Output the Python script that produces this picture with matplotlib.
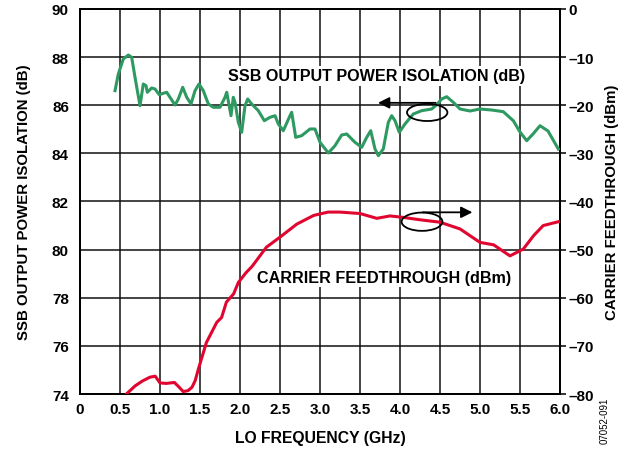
import matplotlib
matplotlib.use("Agg")
import matplotlib.pyplot as plt
from matplotlib.patches import Ellipse

plt.rcParams['font.family'] = ['Liberation Sans', 'DejaVu Sans']
plt.rcParams['font.weight'] = 'bold'

# SSB output power isolation (dB), left axis
iso_freq = [0.4375, 0.479, 0.541, 0.604, 0.646, 0.6875, 0.75, 0.791, 0.825, 0.841, 0.896, 0.9375, 0.991,
            1.041, 1.084, 1.125, 1.1875, 1.229, 1.284, 1.334, 1.3875, 1.4375, 1.4875, 1.541, 1.604, 1.666,
            1.75, 1.8125, 1.834, 1.8875, 1.916, 1.9375, 1.979, 2.021, 2.0625, 2.096, 2.146, 2.229, 2.304,
            2.375, 2.4375, 2.479, 2.541, 2.625, 2.646, 2.696, 2.771, 2.875, 2.9375, 3.0, 3.104, 3.1875,
            3.271, 3.334, 3.4375, 3.521, 3.584, 3.634, 3.6875, 3.729, 3.791, 3.854, 3.896, 3.9375, 3.991,
            4.0625, 4.166, 4.271, 4.396, 4.459, 4.521, 4.584, 4.666, 4.75, 4.875, 5.0, 5.15, 5.291, 5.416,
            5.5, 5.584, 5.6625, 5.75, 5.85, 5.979]
iso_db = [86.605, 87.299, 87.922, 88.088, 87.993, 87.162, 85.981, 86.883, 86.812, 86.538, 86.717, 86.675,
          86.438, 86.497, 86.538, 86.330, 86.010, 86.260, 86.746, 86.330, 86.052, 86.605, 86.883, 86.605,
          86.052, 85.915, 85.915, 86.330, 86.538, 85.566, 86.330, 86.123, 85.292, 84.876, 85.981, 86.260,
          86.052, 85.774, 85.358, 85.499, 85.566, 85.221, 84.942, 85.566, 85.707, 84.668, 84.735, 85.013,
          85.013, 84.460, 84.016, 84.319, 84.764, 84.805, 84.460, 84.252, 84.668, 84.942, 84.182, 83.904,
          84.182, 85.292, 85.566, 85.358, 84.876, 85.221, 85.636, 85.774, 85.844, 86.023, 86.260, 86.355,
          86.123, 85.844, 85.761, 85.844, 85.80, 85.732, 85.358, 84.888, 84.527, 84.805, 85.150, 84.930,
          84.182]

# Carrier feedthrough (dBm), right axis
cf_freq = [0.58, 0.69, 0.78, 0.875, 0.94, 1.0, 1.08, 1.18, 1.24, 1.29, 1.35, 1.40, 1.44, 1.48, 1.58, 1.71,
           1.77, 1.83, 1.92, 1.98, 2.08, 2.15, 2.33, 2.5, 2.71, 2.92, 3.10, 3.25, 3.5, 3.71, 3.875, 4.04,
           4.25, 4.5, 4.75, 5.0, 5.17, 5.375, 5.54, 5.67, 5.79, 5.98]
cf_dbm = [-80.0, -78.3, -77.3, -76.5, -76.3, -77.7, -77.8, -77.6, -78.6, -79.5, -79.3, -78.6, -77.2, -74.8,
          -69.3, -65.1, -64.1, -60.9, -59.2, -56.8, -54.7, -53.5, -49.5, -47.4, -44.7, -42.9, -42.2, -42.2,
          -42.5, -43.5, -43.0, -43.3, -43.8, -44.3, -45.7, -48.5, -49.0, -51.3, -49.9, -47.1, -45.0, -44.2]

x_ticks = [0, 0.5, 1.0, 1.5, 2.0, 2.5, 3.0, 3.5, 4.0, 4.5, 5.0, 5.5, 6.0]
x_labels = ['0', '0.5', '1.0', '1.5', '2.0', '2.5', '3.0', '3.5', '4.0', '4.5', '5.0', '5.5', '6.0']
left_ticks = [74, 76, 78, 80, 82, 84, 86, 88, 90]
right_ticks = [-80, -70, -60, -50, -40, -30, -20, -10, 0]
right_labels = ['–80', '–70', '–60', '–50', '–40', '–30', '–20', '–10', '0']

green = '#2e9a62'
red = '#e0062f'

fig = plt.figure(figsize=(6.36, 4.52), dpi=100)
ax = fig.add_axes([0.1258, 0.1261, 0.7547, 0.8518])
ax2 = ax.twinx()

ax.set_xlim(0, 6)
ax.set_ylim(74, 90)
ax2.set_ylim(-80, 0)
ax.set_xticks(x_ticks)
ax.set_xticklabels(x_labels)
ax.set_yticks(left_ticks)
ax2.set_yticks(right_ticks)
ax2.set_yticklabels(right_labels)
ax.grid(True, color='#111111', linewidth=1.1)
ax.set_axisbelow(True)

for a in (ax, ax2):
    for s in a.spines.values():
        s.set_linewidth(1.3)
ax.tick_params(axis='x', labelsize=11, length=0, pad=6)
ax.tick_params(axis='y', labelsize=11, length=0, pad=8)
ax2.tick_params(axis='y', labelsize=11, length=4, width=1.1, direction='out', pad=2)

ax2.plot(cf_freq, cf_dbm, color=red, linewidth=2.2, zorder=3, solid_joinstyle='round')
ax2.plot(iso_freq, [(v - 90) * 5 for v in iso_db], color=green, linewidth=2.2, zorder=3,
         solid_joinstyle='round')

ax.set_xlabel('LO FREQUENCY (GHz)', fontsize=11.3, fontweight='bold', labelpad=10)
ax.set_ylabel('SSB OUTPUT POWER ISOLATION (dB)', fontsize=10.8, fontweight='bold', labelpad=15)
ax2.set_ylabel('CARRIER FEEDTHROUGH (dBm)', fontsize=10.8, fontweight='bold', labelpad=8)

ax2.text(3.71, -13.9, 'SSB OUTPUT POWER ISOLATION (dB)', ha='center', va='center', fontsize=11.6,
         fontweight='bold', bbox=dict(facecolor='white', edgecolor='none', pad=2), zorder=4)
ax2.text(3.8, -55.7, 'CARRIER FEEDTHROUGH (dBm)', ha='center', va='center', fontsize=11.6,
         fontweight='bold', bbox=dict(facecolor='white', edgecolor='none', pad=2), zorder=4)

ax2.add_patch(Ellipse((4.34, -21.5), 0.505, 3.55, fill=False, edgecolor='black', linewidth=1.3, zorder=5))
ax2.annotate('', xy=(3.69, -19.5), xytext=(4.48, -19.5),
             arrowprops=dict(arrowstyle='-|>', color='black', lw=1.3, mutation_scale=17), zorder=5)
ax2.add_patch(Ellipse((4.275, -44.2), 0.51, 3.8, fill=False, edgecolor='black', linewidth=1.3, zorder=5))
ax2.annotate('', xy=(4.94, -42.25), xytext=(4.25, -42.25),
             arrowprops=dict(arrowstyle='-|>', color='black', lw=1.3, mutation_scale=17), zorder=5)

fig.text(0.951, 0.07, '07052-091', rotation=90, fontsize=7, fontweight='normal', ha='center', va='center')

fig.savefig('out.png', dpi=100)
